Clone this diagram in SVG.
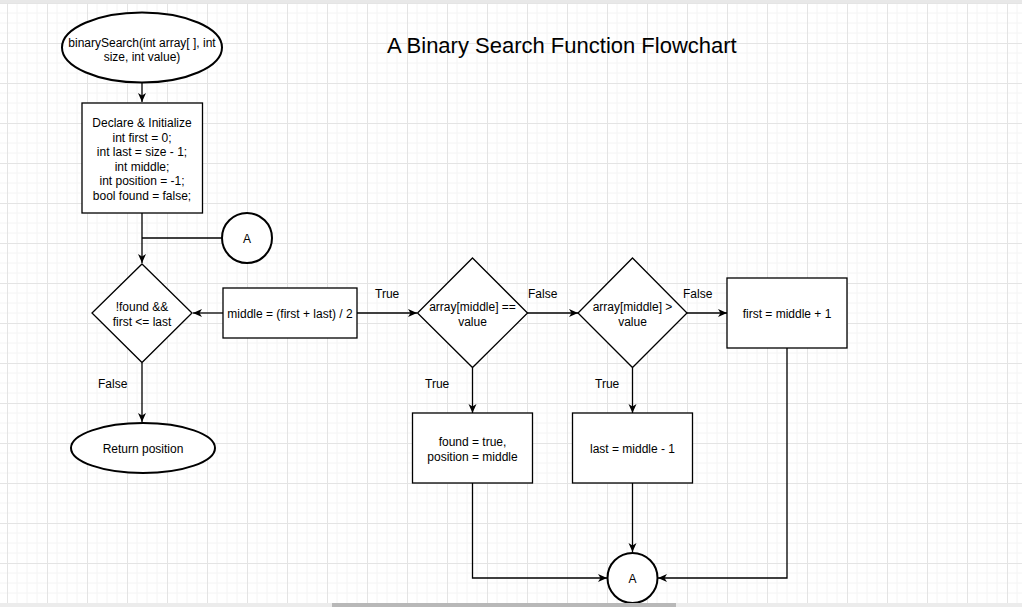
<svg xmlns="http://www.w3.org/2000/svg" width="1022" height="607" viewBox="0 0 1022 607">
<style>
.shape{fill:#fff;stroke:#000;stroke-width:1.3}
.term{fill:#fff;stroke:#000;stroke-width:2}
.edge{fill:none;stroke:#000;stroke-width:1.3}
text{font-family:"Liberation Sans",Arial,sans-serif;font-size:12px;fill:#000}
.c{text-anchor:middle}
.title{font-size:22px}
</style>
<defs>
<pattern id="grid" patternUnits="userSpaceOnUse" width="40" height="40" x="7" y="3">
<path d="M10,0V40M20,0V40M30,0V40M0,10H40M0,20H40M0,30H40" stroke="#f4f4f4" stroke-width="1" fill="none"/>
<path d="M0.5,0V40M0,0.5H40" stroke="#e4e4e4" stroke-width="1" fill="none"/>
</pattern>
<marker id="arr" markerUnits="userSpaceOnUse" markerWidth="10" markerHeight="10" viewBox="0 0 10 10" refX="9" refY="5" orient="auto">
<path d="M0,1 L9,5 L0,9 L2.5,5 z" fill="#000"/>
</marker>
</defs>
<rect width="1022" height="607" fill="#fff"/>
<rect width="1022" height="607" fill="url(#grid)"/>
<rect x="0" y="0" width="1022" height="3" fill="#e8e8e8"/>

<text class="title" x="387" y="52.5">A Binary Search Function Flowchart</text>

<g id="connectors">
<path class="edge" d="M142,82.5V102" marker-end="url(#arr)"/>
<path class="edge" d="M142,213V263" marker-end="url(#arr)"/>
<path class="edge" d="M222,238H142"/>
<path class="edge" d="M142,363V422" marker-end="url(#arr)"/>
<path class="edge" d="M223,313H193" marker-end="url(#arr)"/>
<path class="edge" d="M357,313H417" marker-end="url(#arr)"/>
<path class="edge" d="M527,313H578" marker-end="url(#arr)"/>
<path class="edge" d="M687,313H727" marker-end="url(#arr)"/>
<path class="edge" d="M472.5,368V413" marker-end="url(#arr)"/>
<path class="edge" d="M632.5,368V413" marker-end="url(#arr)"/>
<path class="edge" d="M472.5,483V578H607" marker-end="url(#arr)"/>
<path class="edge" d="M632.5,483V552" marker-end="url(#arr)"/>
<path class="edge" d="M787,348V578H658" marker-end="url(#arr)"/>
<text x="98" y="388">False</text>
<text x="375" y="298">True</text>
<text x="528" y="298">False</text>
<text x="683" y="298">False</text>
<text x="425" y="388">True</text>
<text x="595" y="388">True</text>
</g>

<g id="start">
<ellipse class="term" cx="142" cy="47.5" rx="80" ry="35"/>
<text class="c" x="142" y="46.5">binarySearch(int array[ ], int</text>
<text class="c" x="142" y="61">size, int value)</text>
</g>

<g id="init">
<rect class="shape" x="82" y="103" width="120.5" height="110"/>
<text class="c" x="142" y="127">Declare &amp; Initialize</text>
<text class="c" x="142" y="141.5">int first = 0;</text>
<text class="c" x="142" y="156">int last = size - 1;</text>
<text class="c" x="142" y="170.5">int middle;</text>
<text class="c" x="142" y="185">int position = -1;</text>
<text class="c" x="142" y="199.5">bool found = false;</text>
</g>

<g id="connA1">
<circle class="term" cx="247" cy="238" r="25"/>
<text class="c" x="247" y="242.5">A</text>
</g>

<g id="loopCond">
<path class="shape" d="M142,264 L192,313 L142,362.5 L92,313 Z"/>
<text class="c" x="142" y="311">!found &amp;&amp;</text>
<text class="c" x="142" y="325.5">first &lt;= last</text>
</g>

<g id="returnPos">
<ellipse class="term" cx="143" cy="448" rx="72" ry="25"/>
<text class="c" x="143" y="453">Return position</text>
</g>

<g id="middleCalc">
<rect class="shape" x="223" y="288" width="134" height="50"/>
<text class="c" x="290" y="317.5">middle = (first + last) / 2</text>
</g>

<g id="eqCheck">
<path class="shape" d="M472.5,258 L527.5,313 L472.5,367.5 L417.5,313 Z"/>
<text class="c" x="472.5" y="311">array[middle] ==</text>
<text class="c" x="472.5" y="325.5">value</text>
</g>

<g id="gtCheck">
<path class="shape" d="M632.5,258 L687,313 L632.5,367.5 L578,313 Z"/>
<text class="c" x="632.5" y="311">array[middle] &gt;</text>
<text class="c" x="632.5" y="325.5">value</text>
</g>

<g id="firstUpdate">
<rect class="shape" x="727" y="278" width="120" height="70"/>
<text class="c" x="787" y="317.5">first = middle + 1</text>
</g>

<g id="found">
<rect class="shape" x="412.5" y="413" width="120" height="70"/>
<text class="c" x="472.5" y="446">found = true,</text>
<text class="c" x="472.5" y="461">position = middle</text>
</g>

<g id="lastUpdate">
<rect class="shape" x="572.5" y="413" width="120" height="70"/>
<text class="c" x="632.5" y="453">last = middle - 1</text>
</g>

<g id="connA2">
<circle class="term" cx="632.5" cy="578" r="25"/>
<text class="c" x="632.5" y="582.5">A</text>
</g>

<rect x="0" y="603" width="1022" height="4" fill="#ececec"/>
<rect x="332" y="603" width="344" height="4" fill="#b8b8b8"/>
</svg>
